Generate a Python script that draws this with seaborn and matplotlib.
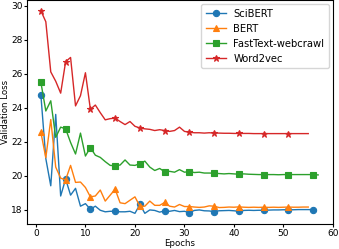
import matplotlib
matplotlib.use("Agg")
import matplotlib.pyplot as plt
import seaborn as sns
import numpy as np

scibert = [24.75, 21.0, 19.4, 23.6, 18.8, 19.8, 18.85, 19.25, 18.2, 18.35,
           18.02, 18.2, 17.96, 17.87, 17.9, 17.9, 17.87, 17.87, 17.9, 17.78,
           18.3, 17.78, 17.98, 17.95, 17.85, 17.93, 17.9, 17.95, 17.88, 17.9,
           17.82, 17.95, 17.98, 17.93, 17.92, 17.88, 17.93, 17.94, 17.95, 17.93,
           17.9, 17.95, 17.96, 17.95, 17.96, 17.96, 17.97, 17.98, 17.98, 17.99,
           17.99, 17.99, 18.0, 18.0, 18.0, 18.0]
bert = [22.55, 21.05, 23.3, 20.5, 19.85, 19.75, 20.6, 19.6, 19.62, 19.3,
        18.75, 18.8, 19.15, 18.5, 18.85, 19.2, 18.4, 18.35, 18.55, 18.75,
        18.2, 18.2, 18.5, 18.25, 18.25, 18.42, 18.2, 18.15, 18.3, 18.18,
        18.18, 18.15, 18.13, 18.15, 18.22, 18.2, 18.12, 18.13, 18.15, 18.14,
        18.16, 18.14, 18.13, 18.14, 18.13, 18.14, 18.13, 18.14, 18.13, 18.14,
        18.15, 18.14, 18.14, 18.15, 18.15]
fasttext = [25.5, 23.8, 24.4, 22.25, 22.85, 22.75, 21.95, 21.27, 22.5, 21.15,
            21.65, 21.2, 21.07, 20.82, 20.6, 20.58, 20.62, 20.92, 20.62, 20.6,
            20.7, 20.85, 20.5, 20.3, 20.42, 20.22, 20.25, 20.2, 20.35, 20.2,
            20.24, 20.18, 20.2, 20.15, 20.15, 20.14, 20.12, 20.1, 20.12, 20.1,
            20.08, 20.1, 20.08, 20.07, 20.06, 20.06, 20.06, 20.06, 20.05, 20.06,
            20.06, 20.06, 20.06, 20.06, 20.06, 20.06, 20.04]
word2vec = [29.7, 29.05, 26.1, 25.55, 24.85, 26.7, 26.95, 24.1, 24.7, 26.05,
            23.9, 24.15, 23.7, 23.28, 23.35, 23.38, 23.18, 23.0, 23.18, 22.9,
            22.8, 22.75, 22.72, 22.65, 22.7, 22.65, 22.6, 22.65, 22.85, 22.6,
            22.55, 22.52, 22.52, 22.5, 22.52, 22.5, 22.5, 22.49, 22.49, 22.48,
            22.48, 22.48, 22.48, 22.47, 22.47, 22.47, 22.47, 22.47, 22.47, 22.47,
            22.47, 22.47, 22.47, 22.47, 22.47]

labels = ["SciBERT", "BERT", "FastText-webcrawl", "Word2vec"]
series = [scibert, bert, fasttext, word2vec]
markers = ["o", "^", "s", "*"]
colors = ["#1f77b4", "#ff7f0e", "#2ca02c", "#d62728"]

plt.rcParams["font.family"] = ["DejaVu Sans"]
fig = plt.figure(figsize=(3.39, 2.49), dpi=100)
ax = fig.add_axes([27/339, 25.3/249, (333-27)/339, 1 - 25.3/249 - 0.002])

for lab, vals, mk, c in zip(labels, series, markers, colors):
    ep = np.arange(1, len(vals) + 1)
    sns.lineplot(x=ep, y=vals, ax=ax, label=lab, color=c, marker=mk,
                 markevery=5, markersize=4.5 if mk != "*" else 5,
                 markeredgecolor=c, markeredgewidth=0.8, linewidth=1.0)

ax.set_xlim(-1.8, 60)
ax.set_ylim(17.17, 30.3)
ax.set_xticks([0, 10, 20, 30, 40, 50, 60])
ax.set_yticks([18, 20, 22, 24, 26, 28, 30])
ax.tick_params(labelsize=6.5, length=2, width=0.8)
ax.tick_params(axis="x", pad=1.5)
ax.tick_params(axis="y", pad=1)
ax.set_xlabel("Epochs", fontsize=6.2, labelpad=1)
ax.set_ylabel("Validation Loss", fontsize=6.2, labelpad=1)
for s in ax.spines.values():
    s.set_linewidth(0.8)
ax.legend(loc="upper right", fontsize=7.2, framealpha=0.8, borderpad=0.45,
          labelspacing=0.5, handlelength=2.0, borderaxespad=0.4)

fig.savefig("out.png", dpi=100)
